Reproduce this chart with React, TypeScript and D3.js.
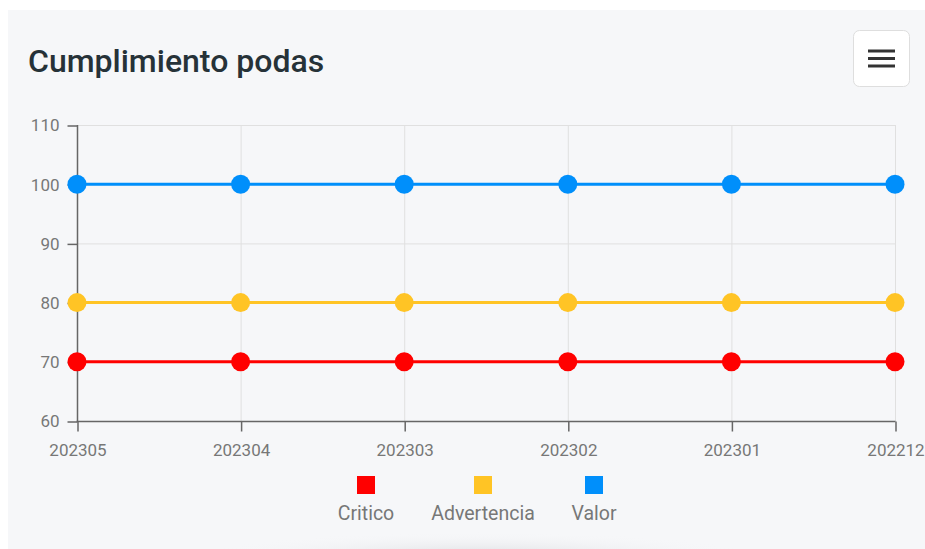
import React, { useRef, useEffect } from "react";
import * as d3 from "d3";

const categories = ["202305", "202304", "202303", "202302", "202301", "202212"];
const critico = [70, 70, 70, 70, 70, 70];
const advertencia = [80, 80, 80, 80, 80, 80];
const valor = [100, 100, 100, 100, 100, 100];
const yTicks = [60, 70, 80, 90, 100, 110];

const series = [
  { name: "Critico", values: critico, color: "#FF0000" },
  { name: "Advertencia", values: advertencia, color: "#FFC425" },
  { name: "Valor", values: valor, color: "#008FFB" },
];

const App = () => {
  const svgRef = useRef<SVGSVGElement>(null);

  useEffect(() => {
    const width = 925;
    const height = 549;
    const svg = d3.select(svgRef.current).attr("width", width).attr("height", height);
    svg.selectAll("*").remove();

    const defs = svg.append("defs");
    const grad = defs
      .append("radialGradient")
      .attr("id", "shadow")
      .attr("cx", "50%")
      .attr("cy", "50%")
      .attr("r", "50%");
    grad.append("stop").attr("offset", "0%").attr("stop-color", "#dcdde0").attr("stop-opacity", 1);
    grad.append("stop").attr("offset", "100%").attr("stop-color", "#f6f7f9").attr("stop-opacity", 0);

    // card
    svg.append("rect").attr("x", 8).attr("y", 10).attr("width", width - 8).attr("height", height - 10).attr("fill", "#f6f7f9");
    svg.append("ellipse").attr("cx", 478).attr("cy", 556).attr("rx", 280).attr("ry", 24).attr("fill", "url(#shadow)");

    svg
      .append("text")
      .attr("x", 28)
      .attr("y", 72)
      .attr("font-family", "Roboto, sans-serif")
      .attr("font-size", 32)
      .attr("font-weight", 500)
      .attr("fill", "#263238")
      .text("Cumplimiento podas");

    // menu button
    const menu = svg.append("g");
    menu
      .append("rect")
      .attr("x", 853.5)
      .attr("y", 30.5)
      .attr("width", 56)
      .attr("height", 56)
      .attr("rx", 6)
      .attr("fill", "#ffffff")
      .attr("stroke", "#dedede");
    [51, 58.5, 66].forEach((yy) => {
      menu
        .append("line")
        .attr("x1", 868)
        .attr("x2", 895)
        .attr("y1", yy)
        .attr("y2", yy)
        .attr("stroke", "#333")
        .attr("stroke-width", 3);
    });

    const x = d3.scalePoint<string>().domain(categories).range([77, 895]);
    const y = d3.scaleLinear().domain([60, 110]).range([421, 125]);

    const g = svg.append("g");

    // grid
    g.selectAll(".hgrid")
      .data(yTicks.slice(1))
      .enter()
      .append("line")
      .attr("x1", 77)
      .attr("x2", 895)
      .attr("y1", (d) => y(d) + 0.5)
      .attr("y2", (d) => y(d) + 0.5)
      .attr("stroke", "#e0e0e0");
    g.selectAll(".vgrid")
      .data(categories.slice(1))
      .enter()
      .append("line")
      .attr("x1", (d) => x(d)! + 0.5)
      .attr("x2", (d) => x(d)! + 0.5)
      .attr("y1", 125)
      .attr("y2", 421)
      .attr("stroke", "#e0e0e0");

    // axes
    const yAxis = g
      .append("g")
      .attr("transform", "translate(77.5,0.5)")
      .call(d3.axisLeft(y).tickValues(yTicks).tickSize(10).tickPadding(8));
    const xAxis = g
      .append("g")
      .attr("transform", "translate(0.5,421.5)")
      .call(d3.axisBottom(x).tickSize(10).tickPadding(8));
    [yAxis, xAxis].forEach((a) => {
      a.select(".domain").attr("stroke", "#666").attr("stroke-width", 1.5);
      a.selectAll(".tick line").attr("stroke", "#666").attr("stroke-width", 1.5);
      a.selectAll(".tick text")
        .attr("fill", "#777")
        .attr("font-family", "Roboto, sans-serif")
        .attr("font-size", 17);
    });
    yAxis.select(".domain").attr("d", "M0,124.5V420.5");
    xAxis.select(".domain").attr("d", "M76,0H895");
    xAxis.selectAll(".tick text").attr("dy", "0.95em");

    // series
    const line = d3
      .line<number>()
      .x((_, i) => x(categories[i])!)
      .y((d) => y(d));
    series.forEach((s) => {
      g.append("path")
        .datum(s.values)
        .attr("fill", "none")
        .attr("stroke", s.color)
        .attr("stroke-width", 3)
        .attr("d", line);
      g.selectAll(null)
        .data(s.values)
        .enter()
        .append("circle")
        .attr("cx", (_, i) => x(categories[i])!)
        .attr("cy", (d) => y(d))
        .attr("r", 9.5)
        .attr("fill", s.color);
    });

    // legend
    const legendX = [366, 483, 594];
    series.forEach((s, i) => {
      g.append("rect")
        .attr("x", legendX[i] - 9)
        .attr("y", 476)
        .attr("width", 18)
        .attr("height", 18)
        .attr("fill", s.color);
      g.append("text")
        .attr("x", legendX[i])
        .attr("y", 520)
        .attr("text-anchor", "middle")
        .attr("fill", "#777")
        .attr("font-family", "Roboto, sans-serif")
        .attr("font-size", 19.5)
        .text(s.name);
    });

    return () => {
      svg.selectAll("*").remove();
    };
  }, []);

  return <svg ref={svgRef} style={{ position: "absolute", left: 0, top: 0 }}></svg>;
};

export default App;
